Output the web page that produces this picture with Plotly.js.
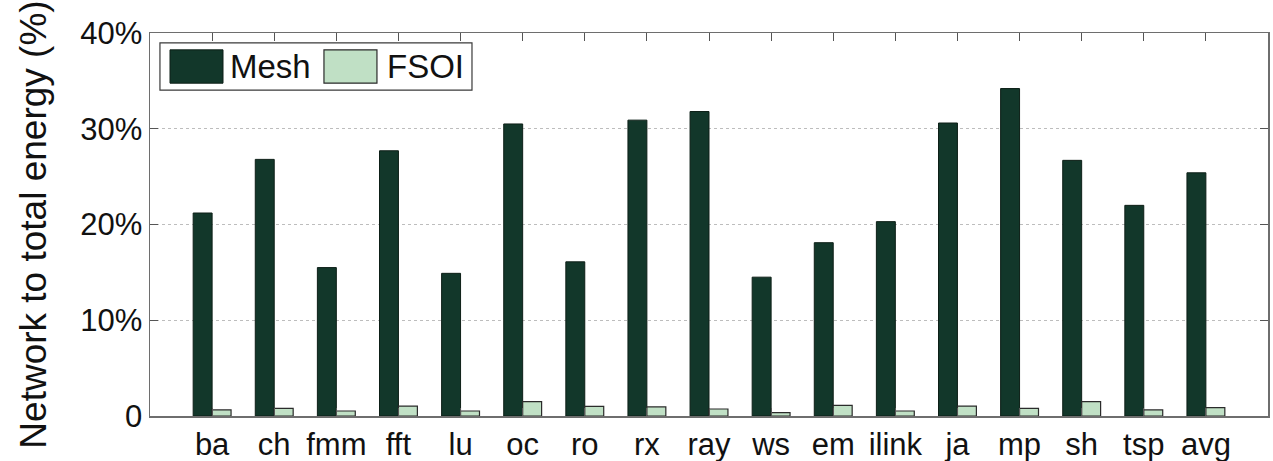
<!DOCTYPE html>
<html>
<head>
<meta charset="utf-8">
<script src="https://cdn.plot.ly/plotly-3.0.1.min.js"></script>
<style>
  html, body { margin: 0; padding: 0; background: #ffffff; }
  #chart { width: 1273px; height: 461px; }
</style>
</head>
<body>
<div id="chart"></div>
<script>
// Benchmarks on the x axis
const benchmarks = ['ba', 'ch', 'fmm', 'fft', 'lu', 'oc', 'ro', 'rx', 'ray', 'ws',
                    'em', 'ilink', 'ja', 'mp', 'sh', 'tsp', 'avg'];

// Share of total energy spent in the network (%)
const meshValues = [21.2, 26.8, 15.5, 27.7, 14.9, 30.5, 16.1, 30.9, 31.8, 14.5,
                    18.1, 20.3, 30.6, 34.2, 26.7, 22.0, 25.4];
const fsoiValues = [0.63, 0.80, 0.52, 1.04, 0.52, 1.50, 1.00, 0.95, 0.73, 0.35,
                    1.10, 0.52, 1.04, 0.80, 1.50, 0.63, 0.87];

const seriesNames = ['Mesh', 'FSOI'];

// Y axis ticks
const yTickValues = [0, 10, 20, 30, 40];
const yTickLabels = ['0', '10%', '20%', '30%', '40%'];

const FONT = 'Liberation Sans, Arial, Helvetica, sans-serif';
const MESH_COLOR = '#12372a';
const FSOI_COLOR = '#c0e0c5';

const xIdx = benchmarks.map((_, i) => i);

const traces = [
  {
    type: 'bar',
    name: seriesNames[0],
    x: xIdx,
    y: meshValues,
    marker: { color: MESH_COLOR, line: { color: '#0d1f17', width: 1 } },
    hoverinfo: 'skip'
  },
  {
    type: 'bar',
    name: seriesNames[1],
    x: xIdx,
    y: fsoiValues,
    marker: { color: FSOI_COLOR, line: { color: '#2b2b2b', width: 1.2 } },
    hoverinfo: 'skip'
  }
];

// Boxed legend in the upper-left corner of the plot area
const legendShapes = [
  { type: 'rect', xref: 'paper', yref: 'paper', x0: 0.0089, x1: 0.288, y0: 0.851, y1: 0.974,
    line: { color: '#3a3a3a', width: 1.2 }, fillcolor: '#ffffff', layer: 'above' },
  { type: 'rect', xref: 'paper', yref: 'paper', x0: 0.0179, x1: 0.0653, y0: 0.869, y1: 0.956,
    line: { color: '#0d1f17', width: 1 }, fillcolor: MESH_COLOR, layer: 'above' },
  { type: 'rect', xref: 'paper', yref: 'paper', x0: 0.1556, x1: 0.203, y0: 0.869, y1: 0.956,
    line: { color: '#2b2b2b', width: 1.2 }, fillcolor: FSOI_COLOR, layer: 'above' }
];

const legendLabels = [
  { xref: 'paper', yref: 'paper', x: 0.0698, y: 0.9125, xanchor: 'left', yanchor: 'middle',
    text: seriesNames[0], showarrow: false, font: { family: FONT, size: 33, color: '#111111' } },
  { xref: 'paper', yref: 'paper', x: 0.210, y: 0.9125, xanchor: 'left', yanchor: 'middle',
    text: seriesNames[1], showarrow: false, font: { family: FONT, size: 33, color: '#111111' } }
];

const layout = {
  width: 1273,
  height: 461,
  margin: { l: 150, r: 5, t: 33, b: 45 },
  paper_bgcolor: '#ffffff',
  plot_bgcolor: '#ffffff',
  barmode: 'group',
  bargap: 0.39,
  bargroupgap: 0,
  showlegend: false,
  font: { family: FONT, color: '#111111' },
  xaxis: {
    range: [-1, 17],
    tickmode: 'array',
    tickvals: xIdx,
    ticktext: benchmarks,
    tickfont: { family: FONT, size: 31, color: '#111111' },
    ticks: 'inside',
    ticklen: 8,
    tickcolor: '#555555',
    showline: true,
    linecolor: '#6e6e6e',
    linewidth: 1.5,
    mirror: 'ticks',
    showgrid: false,
    zeroline: false,
    fixedrange: true
  },
  yaxis: {
    range: [0, 40],
    tickmode: 'array',
    tickvals: yTickValues,
    ticktext: yTickLabels,
    tickfont: { family: FONT, size: 31, color: '#111111' },
    ticks: 'inside',
    ticklen: 8,
    tickcolor: '#555555',
    showline: true,
    linecolor: '#6e6e6e',
    linewidth: 1.5,
    mirror: 'ticks',
    showgrid: true,
    gridcolor: '#bdbdbd',
    gridwidth: 1,
    griddash: 'dot',
    zeroline: false,
    title: {
      text: 'Network to total energy (%)',
      font: { family: FONT, size: 37, color: '#111111' },
      standoff: 22
    },
    fixedrange: true
  },
  shapes: legendShapes,
  annotations: legendLabels
};

Plotly.newPlot('chart', traces, layout, { staticPlot: true, displayModeBar: false });
</script>
</body>
</html>
